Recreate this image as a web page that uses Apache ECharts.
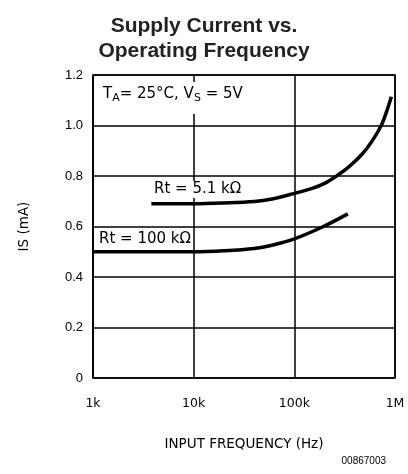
<!DOCTYPE html>
<html><head><meta charset="utf-8">
<script src="https://cdn.jsdelivr.net/npm/echarts@6/dist/echarts.min.js"></script>
<style>html,body{margin:0;padding:0;background:#fff}#c{width:408px;height:474px}</style>
</head><body><div id="c"></div>
<script>
const xTickLabels = {1000:'1k', 10000:'10k', 100000:'100k', 1000000:'1M'};
const freq51k = [3800, 10000, 20000, 40000, 60000, 100000, 150000, 200000, 260000, 350000, 480000, 600000, 730000, 820000, 920000];
const is51k   = [0.69, 0.69, 0.693, 0.699, 0.709, 0.731, 0.751, 0.771, 0.799, 0.837, 0.89, 0.942, 1.0, 1.052, 1.114];
const freq100k = [1000, 10000, 20000, 40000, 60000, 100000, 190000, 340000];
const is100k   = [0.5, 0.5, 0.504, 0.513, 0.526, 0.551, 0.598, 0.65];

const chart = echarts.init(document.getElementById('c'));
const lf = 'DejaVu Sans';
chart.setOption({
  animation: false,
  title: {
    text: 'Supply Current vs.\nOperating Frequency',
    left: 'center', top: 9,
    textStyle: {fontFamily: 'Liberation Sans', fontWeight: 'bold', fontSize: 21, lineHeight: 25, color: '#222'}
  },
  grid: {left: 93, right: 13, top: 75, bottom: 96, show: true, borderColor: '#000', borderWidth: 1.5},
  xAxis: {
    type: 'log', min: 1000, max: 1000000, logBase: 10,
    name: 'INPUT FREQUENCY (Hz)', nameLocation: 'middle', nameGap: 59,
    nameTextStyle: {fontFamily: lf, fontSize: 13.5, color: '#000'},
    axisLine: {show: false}, axisTick: {show: false}, minorTick: {show: false},
    splitLine: {show: true, lineStyle: {color: '#000', width: 1.5}},
    axisLabel: {fontFamily: lf, fontSize: 12.5, color: '#000', margin: 19,
      formatter: v => xTickLabels[Math.round(v)] || ''}
  },
  yAxis: {
    type: 'value', min: 0, max: 1.2, interval: 0.2,
    name: 'IS (mA)', nameLocation: 'middle', nameGap: 62,
    nameTextStyle: {fontFamily: lf, fontSize: 13.5, color: '#000'},
    axisLine: {show: false}, axisTick: {show: false},
    splitLine: {show: true, lineStyle: {color: '#000', width: 1.5}},
    axisLabel: {fontFamily: 'Liberation Sans', fontSize: 13, color: '#000', margin: 10,
      formatter: v => v === 0 ? '0' : v.toFixed(1)}
  },
  series: [
    {type: 'line', data: freq51k.map((f, i) => [f, is51k[i]]), smooth: 0.35, showSymbol: false,
     lineStyle: {color: '#000', width: 3.5}, z: 3},
    {type: 'line', data: freq100k.map((f, i) => [f, is100k[i]]), smooth: 0.35, showSymbol: false,
     lineStyle: {color: '#000', width: 3.5}, z: 3}
  ],
  graphic: [
    {type: 'text', left: 100, top: 82, z: 10, style: {
      rich: {m: {fontFamily: lf, fontSize: 15, fill: '#000', verticalAlign: 'top', height: 20},
             s: {fontFamily: lf, fontSize: 11, fill: '#000', padding: [9, 0, 0, 0], verticalAlign: 'top'}},
      text: '{m|T}{s|A}{m|= 25°C, V}{s|S}{m| = 5V}',
      backgroundColor: '#fff', padding: [2, 3, 10, 3]}},
    {type: 'text', left: 152, top: 181, z: 10, style: {
      text: 'Rt = 5.1 kΩ', fontFamily: lf, fontSize: 15, fill: '#000', backgroundColor: '#fff', padding: [1, 2, 1, 2]}},
    {type: 'text', left: 97, top: 231, z: 10, style: {
      text: 'Rt = 100 kΩ', fontFamily: lf, fontSize: 15, fill: '#000', backgroundColor: '#fff', padding: [1, 2, 1, 2]}},
    {type: 'text', right: 22, top: 456, style: {
      text: '00867003', fontFamily: 'Liberation Sans', fontSize: 10, fill: '#000'}}
  ]
});
</script></body></html>
